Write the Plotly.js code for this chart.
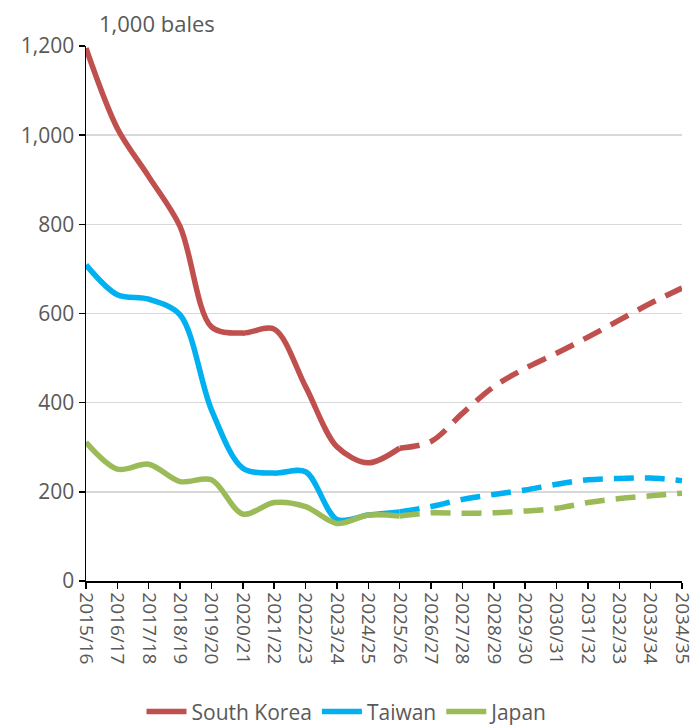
<!DOCTYPE html>
<html><head><meta charset="utf-8">
<script src="https://cdn.plot.ly/plotly-3.0.1.min.js"></script>
<style>html,body{margin:0;padding:0;background:#fff}#chart{width:695px;height:725px}</style>
</head><body><div id="chart"></div>
<script>
const years = ["2015/16","2016/17","2017/18","2018/19","2019/20","2020/21","2021/22","2022/23","2023/24","2024/25","2025/26","2026/27","2027/28","2028/29","2029/30","2030/31","2031/32","2032/33","2033/34","2034/35"];
const southKorea = [1195,1015,907,795,570,556,565,436,301,265,298,313,376,436,477,511,547,585,623,657];
const taiwan = [709,642,632,597,384,253,242,245,138,148,155,167,183,194,204,217,227,230,231,225];
const japan = [311,251,262,223,227,150,176,167,129,148,146,153,152,153,157,163,176,185,191,197];
const seriesNames = ["South Korea","Taiwan","Japan"];
const seriesColors = ["#C0504D","#00B0F0","#9BBB59"];
const splitIndex = 10; // 2025/26: last actual, first projected

const allSeries = [southKorea, taiwan, japan];
const traces = [];
allSeries.forEach((vals, i) => {
  traces.push({x: years.slice(0, splitIndex+1), y: vals.slice(0, splitIndex+1), type:'scatter', mode:'lines',
    name: seriesNames[i], line:{color: seriesColors[i], width:5.5, shape:'spline', smoothing:0.9}, legendgroup: seriesNames[i]});
});
allSeries.forEach((vals, i) => {
  traces.push({x: years.slice(splitIndex), y: vals.slice(splitIndex), type:'scatter', mode:'lines',
    name: seriesNames[i], showlegend:false, legendgroup: seriesNames[i],
    line:{color: seriesColors[i], width:5.5, shape:'spline', smoothing:0.9, dash:'20px,11px'}});
});

const font = {family:'"Open Sans", sans-serif', color:'#595959'};
const layout = {
  width:695, height:725,
  margin:{l:86, r:13, t:46, b:144},
  paper_bgcolor:'#fff', plot_bgcolor:'#fff',
  font: Object.assign({size:21}, font),
  showlegend:true,
  legend:{orientation:'h', x:0.5, xanchor:'center', xref:'container', y:0.018, yref:'container', yanchor:'middle',
    font:Object.assign({size:21}, font), itemwidth:40, tracegroupgap:0},
  xaxis:{type:'category', range:[0,19], showgrid:false, showline:true, linecolor:'#000', linewidth:1.5,
    ticks:'outside', ticklen:6, tickcolor:'#000', tickwidth:1.5, tickangle:90,
    tickfont:Object.assign({size:19}, font), zeroline:false, fixedrange:true},
  yaxis:{range:[0,1200], dtick:200, tickformat:',d', showgrid:true, gridcolor:'#D9D9D9', gridwidth:1.5,
    showline:true, linecolor:'#000', linewidth:1.5, ticks:'outside', ticklen:6, tickcolor:'#000', tickwidth:1.5,
    tickfont:Object.assign({size:21}, font), zeroline:false, fixedrange:true},
  annotations:[{text:'1,000 bales', xref:'paper', yref:'paper', x:0.018, y:1, xanchor:'left', yanchor:'bottom', yshift:6,
    showarrow:false, font:Object.assign({size:22}, font)}]
};
Plotly.newPlot('chart', traces, layout, {staticPlot:true, displayModeBar:false});
</script></body></html>
